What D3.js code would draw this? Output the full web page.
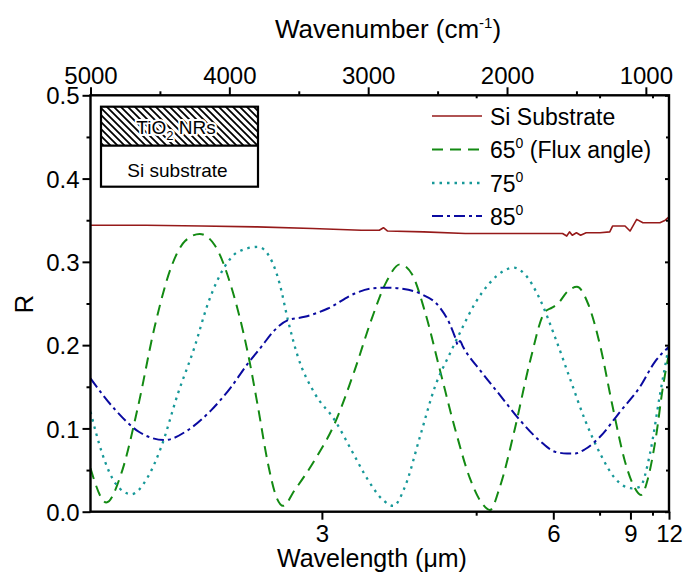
<!DOCTYPE html>
<html>
<head>
<meta charset="utf-8">
<script src="https://cdn.jsdelivr.net/npm/d3@7"></script>
<style>
  html, body { margin: 0; padding: 0; background: #fff; }
  svg { display: block; font-family: "Liberation Sans", Arial, sans-serif; }
</style>
</head>
<body>
<svg id="chart" width="688" height="576"></svg>
<script>
// ---------------- DATA ----------------
// x values are wavenumbers (cm^-1); R is reflectance
const siWn   = [5000,4600,4200,3800,3400,3050,2920,2890,2860,2600,2300,2000,1800,1600,1570,1550,1530,1500,1470,1430,1330,1260,1240,1150,1114,1066,1021,899,860,833.3];
const siR    = [0.344,0.344,0.343,0.342,0.340,0.338,0.338,0.341,0.337,0.336,0.334,0.334,0.334,0.334,0.331,0.336,0.332,0.335,0.332,0.335,0.335,0.336,0.343,0.343,0.337,0.351,0.347,0.347,0.350,0.354];

const a65Wn  = [5000,4886,4778,4658,4538,4418,4319,4213,4105,3986,3866,3794,3722,3662,3613,3529,3385,3241,3097,2978,2869,2771,2684,2591,2483,2375,2267,2180,2123,2051,1943,1835,1727,1676,1633,1561,1496,1417,1330,1244,1150,1085,1035,985,927,877,833.3];
const a65R   = [0.052,0.011,0.046,0.126,0.222,0.294,0.325,0.3335,0.320,0.270,0.190,0.126,0.058,0.018,0.007,0.026,0.062,0.106,0.170,0.230,0.276,0.297,0.285,0.240,0.170,0.100,0.040,0.010,0.002,0.030,0.100,0.180,0.240,0.245,0.250,0.265,0.270,0.250,0.200,0.130,0.060,0.030,0.020,0.040,0.090,0.150,0.190];

const a75Wn  = [5000,4916,4820,4706,4586,4490,4370,4250,4154,4034,3938,3794,3710,3638,3578,3506,3385,3241,3121,3001,2893,2819,2735,2627,2519,2411,2339,2231,2123,2015,1950,1871,1763,1655,1547,1438,1330,1222,1100,1042,970,899,833.3];
const a75R   = [0.120,0.070,0.034,0.021,0.042,0.078,0.142,0.198,0.250,0.294,0.312,0.318,0.306,0.274,0.230,0.186,0.142,0.110,0.074,0.038,0.014,0.007,0.030,0.090,0.150,0.190,0.215,0.250,0.275,0.290,0.293,0.285,0.255,0.210,0.160,0.110,0.070,0.040,0.028,0.030,0.070,0.140,0.200];

const a85Wn  = [5000,4820,4652,4466,4298,4130,3986,3866,3770,3674,3578,3458,3290,3097,2978,2857,2771,2627,2483,2411,2375,2353,2339,2317,2195,2051,1907,1763,1655,1568,1511,1438,1330,1186,1042,935,833.3];
const a85R   = [0.160,0.122,0.096,0.086,0.098,0.122,0.150,0.178,0.198,0.218,0.230,0.234,0.244,0.262,0.268,0.269,0.268,0.262,0.245,0.225,0.210,0.200,0.205,0.198,0.170,0.140,0.110,0.085,0.072,0.070,0.070,0.075,0.090,0.120,0.150,0.180,0.198];

const yTicks        = [0.0, 0.1, 0.2, 0.3, 0.4, 0.5];
const yMinorTicks   = [0.05, 0.15, 0.25, 0.35, 0.45];
const wnTicks       = [5000, 4000, 3000, 2000, 1000];
const wnMinorTicks  = [4500, 3500, 2500, 1500];
const wlTicks       = [3, 6, 9, 12];
const wlMinorTicks  = [4.5, 7.5, 10.5];

const seriesNames = ["Si Substrate", "65", "75", "85"];

// ---------------- LAYOUT ----------------
const svg = d3.select("#chart");
const L = 90.5, R = 669, T = 95.3, B = 511.7;

const x = d3.scaleLinear().domain([5000, 1e4 / 12]).range([L, R]);
const y = d3.scaleLinear().domain([0, 0.5]).range([B, T]);

const FONT_TICK = 24, FONT_TITLE = 25;

// ---------------- CURVES ----------------
const clipId = "plotclip";
svg.append("clipPath").attr("id", clipId).append("rect")
  .attr("x", L).attr("y", T).attr("width", R - L).attr("height", B - T);

const plot = svg.append("g").attr("clip-path", `url(#${clipId})`);

function zip(a, b) { return a.map((v, i) => [v, b[i]]); }
const smooth = d3.line().x(d => x(d[0])).y(d => y(d[1])).curve(d3.curveMonotoneX);
const straight = d3.line().x(d => x(d[0])).y(d => y(d[1]));

const styles = [
  { color: "#961a1a", dash: null, width: 1.6, gen: straight, data: zip(siWn, siR) },
  { color: "#138a13", dash: "11,7", width: 2, gen: smooth, data: zip(a65Wn, a65R) },
  { color: "#169898", dash: "2.5,5", width: 2.3, gen: smooth, data: zip(a75Wn, a75R) },
  { color: "#0a0aa0", dash: "11,4,3,4", width: 2, gen: smooth, data: zip(a85Wn, a85R) }
];

styles.forEach(s => {
  plot.append("path")
    .attr("d", s.gen(s.data))
    .attr("fill", "none")
    .attr("stroke", s.color)
    .attr("stroke-width", s.width)
    .attr("stroke-dasharray", s.dash)
    .attr("stroke-linejoin", "round");
});

// ---------------- AXES ----------------
function styleAxis(g) {
  g.select(".domain").remove();
  g.selectAll(".tick line").attr("stroke", "#000").attr("stroke-width", 2);
  g.selectAll("text").attr("fill", "#000").attr("font-size", FONT_TICK)
    .attr("font-family", "Liberation Sans, Arial, sans-serif");
}

// left axis
const gl = svg.append("g").attr("transform", `translate(${L},0)`)
  .call(d3.axisLeft(y).tickValues(yTicks).tickSize(8).tickPadding(3).tickFormat(d3.format(".1f")));
styleAxis(gl);
gl.selectAll("text").attr("dy", "0.36em");
svg.append("g").attr("transform", `translate(${L},0)`)
  .call(d3.axisLeft(y).tickValues(yMinorTicks).tickSize(4).tickFormat(""))
  .call(styleAxis);

// right axis (inward mirror ticks)
svg.append("g").attr("transform", `translate(${R},0)`)
  .call(d3.axisLeft(y).tickValues(yTicks).tickSize(4).tickFormat(""))
  .call(styleAxis);
svg.append("g").attr("transform", `translate(${R},0)`)
  .call(d3.axisLeft(y).tickValues(yMinorTicks).tickSize(3).tickFormat(""))
  .call(styleAxis);

// top axis: wavenumber
const gt = svg.append("g").attr("transform", `translate(0,${T})`)
  .call(d3.axisTop(x).tickValues(wnTicks).tickSize(8).tickPadding(3).tickFormat(d3.format("d")));
styleAxis(gt);
svg.append("g").attr("transform", `translate(0,${T})`)
  .call(d3.axisTop(x).tickValues(wnMinorTicks).tickSize(4).tickFormat(""))
  .call(styleAxis);
// small inward ticks for wavelength on top
svg.append("g").attr("transform", `translate(0,${T})`)
  .call(d3.axisBottom(x).tickValues(wlMinorTicks.map(l => 1e4 / l)).tickSize(3).tickFormat(""))
  .call(styleAxis);

// bottom axis: wavelength
const gb = svg.append("g").attr("transform", `translate(0,${B})`)
  .call(d3.axisBottom(x).tickValues(wlTicks.map(l => 1e4 / l)).tickSize(8).tickPadding(5)
    .tickFormat(d => String(Math.round(1e4 / d))));
styleAxis(gb);
svg.append("g").attr("transform", `translate(0,${B})`)
  .call(d3.axisBottom(x).tickValues(wlMinorTicks.map(l => 1e4 / l)).tickSize(4).tickFormat(""))
  .call(styleAxis);

// frame
svg.append("rect").attr("x", L).attr("y", T).attr("width", R - L).attr("height", B - T)
  .attr("fill", "none").attr("stroke", "#000").attr("stroke-width", 2.4);

// ---------------- TITLES ----------------
const topTitle = svg.append("text").attr("x", 388).attr("y", 38)
  .attr("text-anchor", "middle").attr("font-size", FONT_TITLE + 1);
topTitle.append("tspan").text("Wavenumber (cm");
topTitle.append("tspan").attr("font-size", 15).attr("dy", -10).text("-1");
topTitle.append("tspan").attr("dy", 10).text(")");

svg.append("text").attr("x", 372).attr("y", 567)
  .attr("text-anchor", "middle").attr("font-size", FONT_TITLE)
  .text("Wavelength (\u03bcm)");

svg.append("text").attr("transform", "translate(33,304) rotate(-90)")
  .attr("text-anchor", "middle").attr("font-size", FONT_TITLE + 1).text("R");

// ---------------- LEGEND ----------------
const legendY = [116, 149.5, 183, 216];
const lg = svg.append("g");
styles.forEach((s, i) => {
  lg.append("line").attr("x1", 432).attr("x2", 482)
    .attr("y1", legendY[i]).attr("y2", legendY[i])
    .attr("stroke", s.color).attr("stroke-width", s.width)
    .attr("stroke-dasharray", s.dash);
  const t = lg.append("text").attr("x", 490).attr("y", legendY[i] + 8.5)
    .attr("font-size", 23);
  if (i === 0) {
    t.text(seriesNames[0]);
  } else {
    t.append("tspan").text(seriesNames[i]);
    t.append("tspan").attr("font-size", 14).attr("dy", -10).text("0");
    if (i === 1) t.append("tspan").attr("dy", 10).text(" (Flux angle)");
  }
});

// ---------------- INSET ----------------
const defs = svg.append("defs");
const pat = defs.append("pattern").attr("id", "hatch")
  .attr("patternUnits", "userSpaceOnUse").attr("width", 7).attr("height", 7);
pat.append("path").attr("d", "M0,0 L7,7 M-2,5 L2,9 M5,-2 L9,2")
  .attr("stroke", "#000").attr("stroke-width", 1.8);

const ix = 101, iy = 106.7, iw = 157, ih = 80, imid = 145.7;
svg.append("rect").attr("x", ix).attr("y", iy).attr("width", iw).attr("height", imid - iy)
  .attr("fill", "url(#hatch)");
svg.append("rect").attr("x", ix).attr("y", iy).attr("width", iw).attr("height", ih)
  .attr("fill", "none").attr("stroke", "#000").attr("stroke-width", 2.2);
svg.append("line").attr("x1", ix).attr("x2", ix + iw).attr("y1", imid).attr("y2", imid)
  .attr("stroke", "#000").attr("stroke-width", 2.2);

const tio = svg.append("text").attr("x", 176).attr("y", 134).attr("text-anchor", "middle")
  .attr("font-size", 19).attr("fill", "#000")
  .attr("stroke", "#fff").attr("stroke-width", 4).attr("paint-order", "stroke")
  .attr("stroke-linejoin", "round");
tio.append("tspan").text("TiO");
tio.append("tspan").attr("font-size", 13).attr("dy", 6).text("2");
tio.append("tspan").attr("dy", -6).text(" NRs");

svg.append("text").attr("x", 177.5).attr("y", 177).attr("text-anchor", "middle")
  .attr("font-size", 19).text("Si substrate");
</script>
</body>
</html>
